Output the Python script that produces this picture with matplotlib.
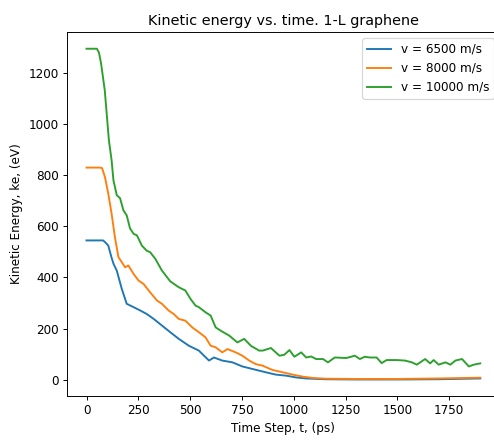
import matplotlib
matplotlib.use("Agg")
import matplotlib.pyplot as plt

t_6500 = [0, 80, 90, 105, 120, 130, 146, 170, 194, 227, 259, 291, 324, 364, 404, 445, 494, 542,
          591, 615, 655, 704, 752, 801, 866, 914, 963, 1011, 1060, 1150, 1300, 1500, 1700, 1900]
ke_6500 = [545, 545, 538, 525, 480, 454, 427, 356, 297, 284, 271, 257, 238, 212, 186, 160, 133, 114,
           75, 87, 75, 68, 52, 42, 29, 20, 16, 9, 5, 2, 1, 1, 2, 5]

t_8000 = [0, 65, 75, 89, 105, 121, 137, 154, 170, 186, 202, 227, 251, 275, 307, 340, 364, 396, 421,
          445, 477, 510, 542, 574, 599, 623, 655, 680, 720, 752, 785, 817, 850, 898, 947, 995, 1044,
          1092, 1155, 1300, 1500, 1700, 1900]
ke_8000 = [830, 830, 828, 793, 728, 650, 558, 480, 460, 440, 447, 414, 388, 375, 342, 310, 297, 271, 257,
           238, 231, 205, 186, 166, 133, 127, 107, 120, 107, 94, 75, 61, 55, 38, 29, 20, 12,
           7, 4, 3, 3, 5, 8]

t_10000 = [0, 50, 60, 70, 88, 108, 121, 130, 146, 162, 178, 194, 210, 227, 243, 267, 290, 307, 332, 364,
           404, 445, 477, 502, 526, 542, 574, 599, 623, 647, 688, 728, 761, 793, 801, 833, 850, 890,
           931, 955, 979, 1003, 1036, 1060, 1084, 1108, 1141, 1165, 1198, 1254, 1295, 1319, 1343,
           1367, 1400, 1424, 1448, 1497, 1537, 1570, 1594, 1634, 1658, 1675, 1699, 1732, 1756, 1780,
           1812, 1845, 1869, 1900]
ke_10000 = [1295, 1295, 1280, 1239, 1133, 937, 859, 780, 722, 710, 663, 643, 592, 571, 565, 525, 505, 499, 473, 427,
            385, 362, 349, 316, 290, 284, 264, 251, 205, 192, 173, 146, 160, 133, 129, 114, 114, 124,
            94, 98, 116, 90, 107, 87, 91, 81, 81, 68, 87, 85, 94, 81, 90,
            87, 87, 65, 77, 77, 75, 68, 59, 81, 64, 77, 59, 68, 59, 75,
            81, 52, 59, 64]

labels = ["v = 6500 m/s", "v = 8000 m/s", "v = 10000 m/s"]

DPI = 86
fig = plt.figure(figsize=(495 / DPI, 441 / DPI), dpi=DPI)
ax = fig.add_axes([0.135, 0.102, 0.875, 0.825])
ax.plot(t_6500, ke_6500, color="#1f77b4", lw=1.6, label=labels[0])
ax.plot(t_8000, ke_8000, color="#ff7f0e", lw=1.6, label=labels[1])
ax.plot(t_10000, ke_10000, color="#2ca02c", lw=1.6, label=labels[2])
ax.set_title("Kinetic energy vs. time. 1-L graphene")
ax.set_xlabel("Time Step, t, (ps)")
ax.set_ylabel("Kinetic Energy, ke, (eV)")
ax.set_xticks([0, 250, 500, 750, 1000, 1250, 1500, 1750])
ax.set_yticks([0, 200, 400, 600, 800, 1000, 1200])
ax.legend(loc="upper right")
fig.savefig("out.png", dpi=DPI)
